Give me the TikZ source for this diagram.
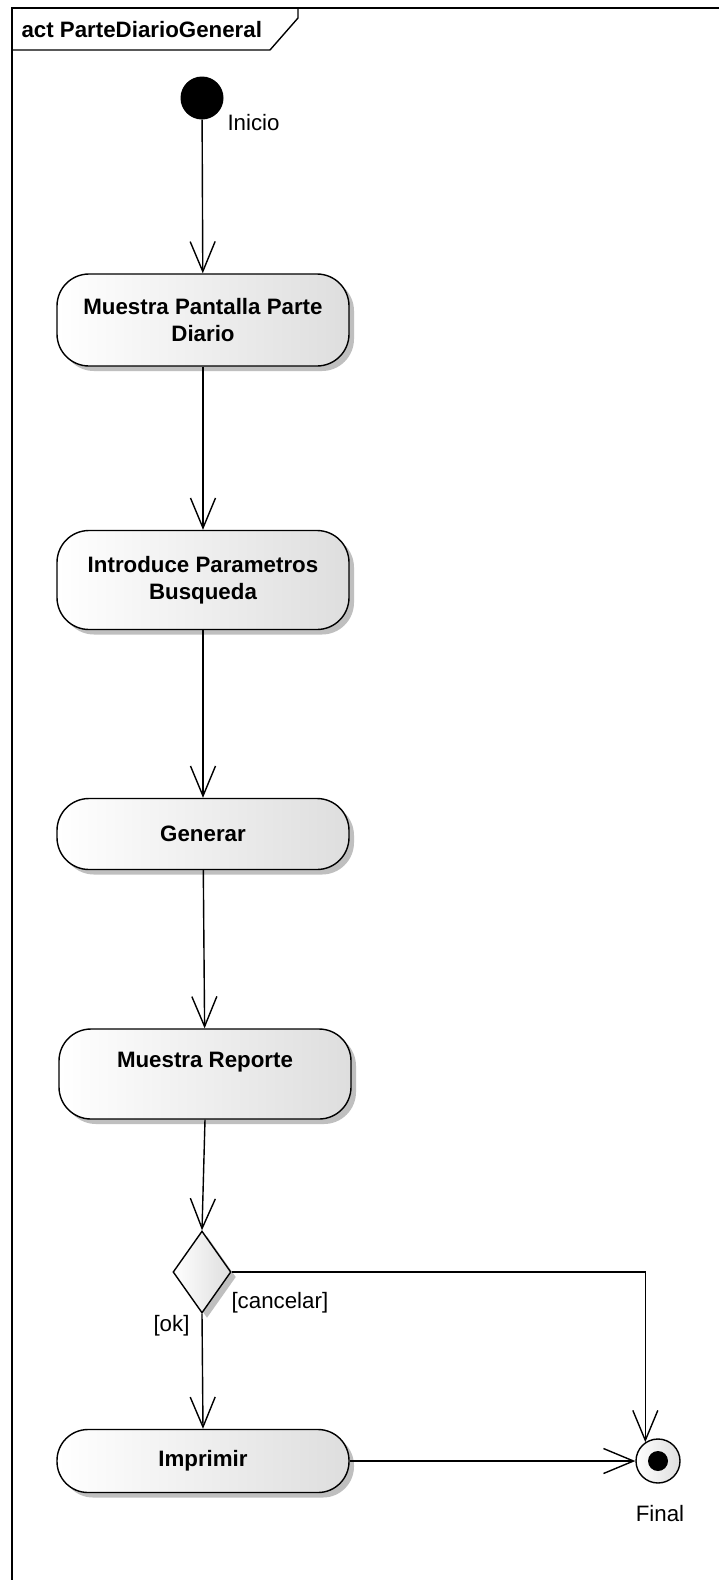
\documentclass[tikz,border=0pt]{standalone}
\usepackage{fontspec}
\setmainfont{Liberation Sans}
\usetikzlibrary{arrows.meta,shapes.geometric,shadows}
\begin{document}
\begin{tikzpicture}[x=1pt,y=-1pt,
  txt/.style={font=\fontsize{22.3}{27}\selectfont},
  btxt/.style={font=\fontsize{22.3}{27}\selectfont\bfseries, align=center},
  act/.style={draw, line width=1.4pt, rounded corners=32pt, minimum width=292pt,
    left color=white, middle color=white, right color=black!13,
    drop shadow={shadow xshift=5pt, shadow yshift=-5pt, fill=black!25, opacity=1},
    inner sep=0pt},
  flow/.style={line width=1.4pt, -{Straight Barb[length=30pt,width=25pt,line width=1.4pt]}},
  plain/.style={line width=1.4pt}]
\useasboundingbox (0,0) rectangle (719,1580);
\fill[white] (0,0) rectangle (719,1580);
% frame
\begin{scope}
\clip (0,0) rectangle (719,1580);
\draw[line width=2.4pt] (12,1600) -- (12,8) -- (740,8);
\end{scope}
\draw[line width=1.4pt] (12,50) -- (270,50) -- (298,18) -- (298,8);
\node[txt, font=\fontsize{22.3}{27}\selectfont\bfseries, anchor=west] (title) at (18,30) {act ParteDiarioGeneral};
% start
\node[circle, fill=black, minimum size=43pt, inner sep=0pt] (s) at (202,98) {};
\node[txt, anchor=west] (sl) at (224,123) {Inicio};
% activities
\node[act, minimum height=92pt, btxt] (n1) at (203,320) {Muestra Pantalla Parte\\Diario};
\node[act, minimum height=99pt, btxt] (n2) at (203,580) {Introduce Parametros\\Busqueda};
\node[act, minimum height=71pt, btxt] (n3) at (203,834) {Generar};
\node[act, minimum height=90pt] (n4) at (205,1074) {};
\node[btxt] (t4) at (205,1062) {Muestra Reporte};
\node[act, minimum height=63pt, rounded corners=31pt, btxt] (n5) at (203,1461) {Imprimir};
% decision
\node[diamond, draw, line width=1.4pt, minimum width=58pt, minimum height=82pt, inner sep=0pt,
  left color=white, middle color=white, right color=black!13,
  drop shadow={shadow xshift=5pt, shadow yshift=-5pt, fill=black!25, opacity=1}] (d) at (202,1272) {};
% final
\node[circle, draw, line width=1.4pt, minimum size=44pt, inner sep=0pt,
  left color=white, middle color=white, right color=black!13] (fin) at (658,1461) {};
\node[circle, fill=black, minimum size=20pt, inner sep=0pt] (fdot) at (fin.center) {};
\node[txt] (fl) at (660,1514) {Final};
% flows
\draw[flow] (s) -- (n1);
\draw[flow] (n1) -- (n2);
\draw[flow] (n2) -- (n3);
\draw[flow] (n3) -- (n4);
\draw[flow] (n4.south) -- (d.north);
\draw[flow] (d.south) -- (n5.north);
\draw[flow] (d.east) -| (fin.124);
\draw[flow] (n5.east) -- (fin.west);
% guards
\node[txt, anchor=west] (gc) at (228,1303) {[cancelar]};
\node[txt, anchor=west] (go) at (150,1326) {[ok]};
\end{tikzpicture}
\end{document}
